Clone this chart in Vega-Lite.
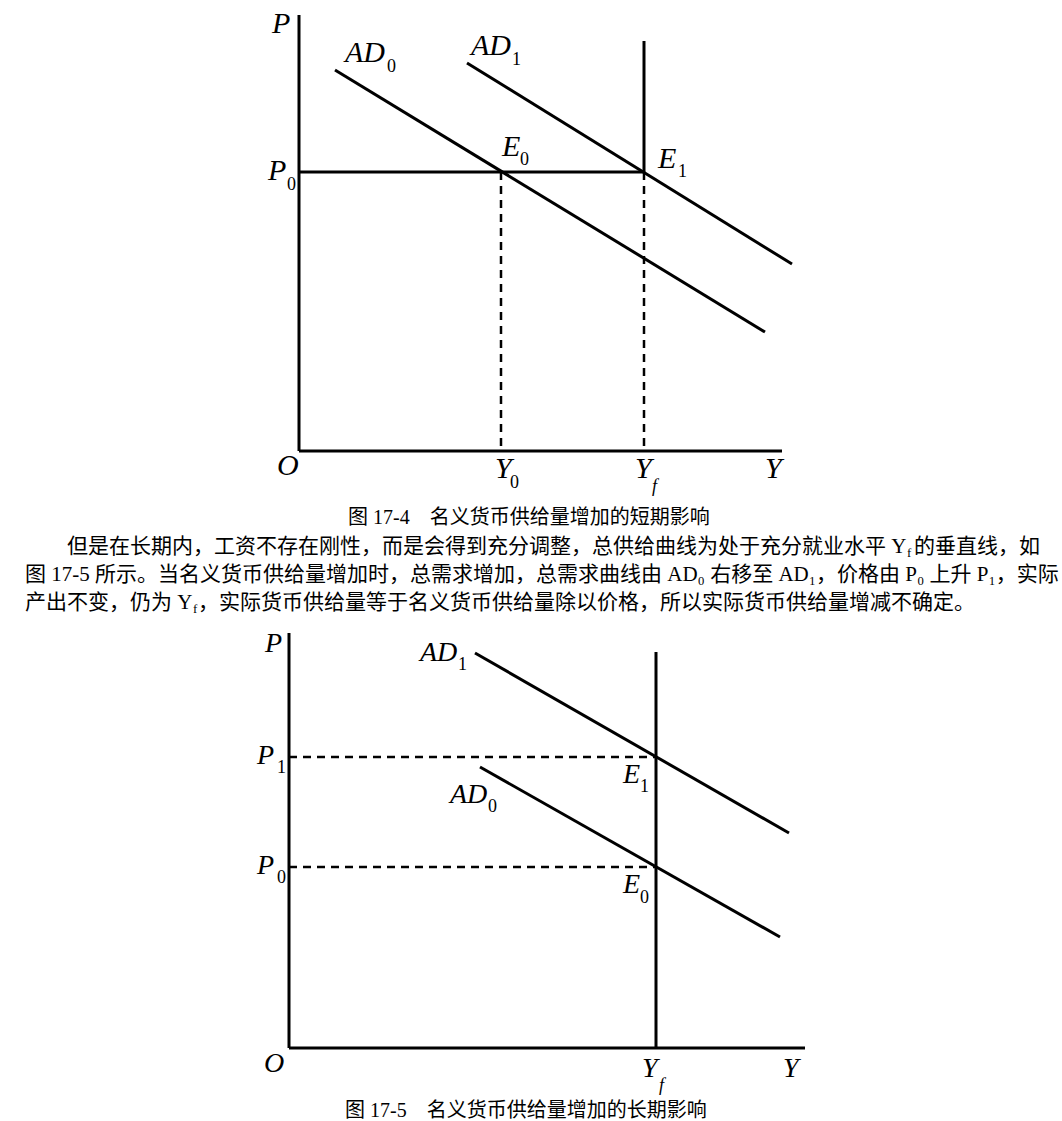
{
  "$schema": "https://vega.github.io/schema/vega-lite/v6.json",
  "width": 1062,
  "height": 1121,
  "autosize": {"type": "fit", "contains": "padding"},
  "padding": 0,
  "background": "white",
  "config": {"view": {"stroke": null}},
  "datasets": {
    "segments": [
      {"fig": "17-4", "item": "P axis", "kind": "axis", "x": 299, "y": 15, "x2": 299, "y2": 451},
      {"fig": "17-4", "item": "Y axis", "kind": "axis", "x": 299, "y": 451, "x2": 782, "y2": 451},
      {"fig": "17-4", "item": "SRAS P0", "kind": "curve", "x": 299, "y": 172, "x2": 644, "y2": 172},
      {"fig": "17-4", "item": "LRAS", "kind": "curve", "x": 644, "y": 41, "x2": 644, "y2": 172},
      {"fig": "17-4", "item": "AD0", "kind": "curve", "x": 335, "y": 70, "x2": 765, "y2": 332},
      {"fig": "17-4", "item": "AD1", "kind": "curve", "x": 467, "y": 63, "x2": 792, "y2": 264},
      {"fig": "17-4", "item": "Y0 guide", "kind": "guide", "x": 501, "y": 172, "x2": 501, "y2": 451},
      {"fig": "17-4", "item": "Yf guide", "kind": "guide", "x": 644, "y": 172, "x2": 644, "y2": 451},
      {"fig": "17-5", "item": "P axis", "kind": "axis", "x": 289, "y": 633, "x2": 289, "y2": 1048},
      {"fig": "17-5", "item": "Y axis", "kind": "axis", "x": 289, "y": 1048, "x2": 805, "y2": 1048},
      {"fig": "17-5", "item": "LRAS", "kind": "curve", "x": 656, "y": 652, "x2": 656, "y2": 1048},
      {"fig": "17-5", "item": "AD1", "kind": "curve", "x": 475, "y": 653, "x2": 789, "y2": 833},
      {"fig": "17-5", "item": "AD0", "kind": "curve", "x": 480, "y": 767, "x2": 780, "y2": 937},
      {"fig": "17-5", "item": "P1 guide", "kind": "guide", "x": 289, "y": 757, "x2": 656, "y2": 757},
      {"fig": "17-5", "item": "P0 guide", "kind": "guide", "x": 289, "y": 867, "x2": 656, "y2": 867}
    ],
    "labels": [
      {"fig": "17-4", "role": "var", "label": "P", "x": 272, "y": 33},
      {"fig": "17-4", "role": "var", "label": "AD", "x": 345, "y": 62},
      {"fig": "17-4", "role": "sub", "label": "0", "x": 387, "y": 72},
      {"fig": "17-4", "role": "var", "label": "AD", "x": 471, "y": 55},
      {"fig": "17-4", "role": "sub", "label": "1", "x": 512, "y": 65},
      {"fig": "17-4", "role": "var", "label": "E", "x": 502, "y": 156},
      {"fig": "17-4", "role": "sub", "label": "0", "x": 520, "y": 165},
      {"fig": "17-4", "role": "var", "label": "E", "x": 658, "y": 168},
      {"fig": "17-4", "role": "sub", "label": "1", "x": 678, "y": 177},
      {"fig": "17-4", "role": "var", "label": "P", "x": 268, "y": 180},
      {"fig": "17-4", "role": "sub", "label": "0", "x": 287, "y": 190},
      {"fig": "17-4", "role": "var", "label": "O", "x": 277, "y": 475},
      {"fig": "17-4", "role": "var", "label": "Y", "x": 495, "y": 478},
      {"fig": "17-4", "role": "sub", "label": "0", "x": 510, "y": 488},
      {"fig": "17-4", "role": "var", "label": "Y", "x": 635, "y": 478},
      {"fig": "17-4", "role": "subf", "label": "f", "x": 652, "y": 492},
      {"fig": "17-4", "role": "var", "label": "Y", "x": 765, "y": 478},
      {"fig": "17-5", "role": "var", "label": "P", "x": 265, "y": 652},
      {"fig": "17-5", "role": "var", "label": "AD", "x": 420, "y": 661},
      {"fig": "17-5", "role": "sub", "label": "1", "x": 458, "y": 670},
      {"fig": "17-5", "role": "var", "label": "P", "x": 257, "y": 764},
      {"fig": "17-5", "role": "sub", "label": "1", "x": 277, "y": 773},
      {"fig": "17-5", "role": "var", "label": "AD", "x": 450, "y": 803},
      {"fig": "17-5", "role": "sub", "label": "0", "x": 488, "y": 812},
      {"fig": "17-5", "role": "var", "label": "P", "x": 257, "y": 874},
      {"fig": "17-5", "role": "sub", "label": "0", "x": 277, "y": 883},
      {"fig": "17-5", "role": "var", "label": "E", "x": 623, "y": 783},
      {"fig": "17-5", "role": "sub", "label": "1", "x": 640, "y": 792},
      {"fig": "17-5", "role": "var", "label": "E", "x": 623, "y": 893},
      {"fig": "17-5", "role": "sub", "label": "0", "x": 640, "y": 903},
      {"fig": "17-5", "role": "var", "label": "O", "x": 264, "y": 1072},
      {"fig": "17-5", "role": "var", "label": "Y", "x": 642, "y": 1077},
      {"fig": "17-5", "role": "subf", "label": "f", "x": 659, "y": 1091},
      {"fig": "17-5", "role": "var", "label": "Y", "x": 783, "y": 1077}
    ],
    "text": [
      {"role": "caption", "label": "图 17-4\u3000名义货币供给量增加的短期影响", "x": 348, "y": 518},
      {"role": "body", "label": "但是在长期内，工资不存在刚性，而是会得到充分调整，总供给曲线为处于充分就业水平 Y", "x": 67, "y": 547},
      {"role": "bodysub", "label": "f", "x": 907, "y": 553},
      {"role": "bodyR", "label": "的垂直线，如", "x": 1040, "y": 547},
      {"role": "body", "label": "图 17-5 所示。当名义货币供给量增加时，总需求增加，总需求曲线由 AD₀ 右移至 AD₁，价格由 P₀ 上升 P₁，实际", "x": 25, "y": 575},
      {"role": "body", "label": "产出不变，仍为 Y", "x": 25, "y": 603},
      {"role": "bodysub", "label": "f", "x": 193, "y": 609},
      {"role": "body", "label": "，实际货币供给量等于名义货币供给量除以价格，所以实际货币供给量增减不确定。", "x": 198, "y": 603},
      {"role": "caption", "label": "图 17-5\u3000名义货币供给量增加的长期影响", "x": 345, "y": 1111}
    ]
  },
  "encoding": {
    "x": {"field": "x", "type": "quantitative", "scale": {"domain": [0, 1062], "nice": false, "zero": false}, "axis": null},
    "y": {"field": "y", "type": "quantitative", "scale": {"domain": [0, 1121], "reverse": true, "nice": false, "zero": false}, "axis": null}
  },
  "layer": [
    {
      "data": {"name": "segments"},
      "transform": [{"filter": "datum.kind != 'guide'"}],
      "mark": {"type": "rule", "color": "black", "strokeWidth": 3},
      "encoding": {"x2": {"field": "x2"}, "y2": {"field": "y2"}}
    },
    {
      "data": {"name": "segments"},
      "transform": [{"filter": "datum.kind == 'guide'"}],
      "mark": {"type": "rule", "color": "black", "strokeWidth": 2.5, "strokeDash": [8, 6]},
      "encoding": {"x2": {"field": "x2"}, "y2": {"field": "y2"}}
    },
    {
      "data": {"name": "labels"},
      "transform": [{"filter": "datum.role == 'var' && datum.fig == '17-4'"}],
      "mark": {"type": "text", "align": "left", "baseline": "alphabetic", "font": "Liberation Serif", "fontStyle": "italic", "fontSize": 30, "color": "black"},
      "encoding": {"text": {"field": "label"}}
    },
    {
      "data": {"name": "labels"},
      "transform": [{"filter": "datum.role == 'var' && datum.fig == '17-5'"}],
      "mark": {"type": "text", "align": "left", "baseline": "alphabetic", "font": "Liberation Serif", "fontStyle": "italic", "fontSize": 28, "color": "black"},
      "encoding": {"text": {"field": "label"}}
    },
    {
      "data": {"name": "labels"},
      "transform": [{"filter": "datum.role == 'sub'"}],
      "mark": {"type": "text", "align": "left", "baseline": "alphabetic", "font": "Liberation Serif", "fontSize": 18, "color": "black"},
      "encoding": {"text": {"field": "label"}}
    },
    {
      "data": {"name": "labels"},
      "transform": [{"filter": "datum.role == 'subf'"}],
      "mark": {"type": "text", "align": "left", "baseline": "alphabetic", "font": "Liberation Serif", "fontStyle": "italic", "fontSize": 18, "color": "black"},
      "encoding": {"text": {"field": "label"}}
    },
    {
      "data": {"name": "text"},
      "transform": [{"filter": "datum.role == 'body'"}],
      "mark": {"type": "text", "align": "left", "baseline": "middle", "font": "Liberation Serif, DejaVu Serif, Noto Sans CJK SC", "fontSize": 21, "color": "black"},
      "encoding": {"text": {"field": "label"}}
    },
    {
      "data": {"name": "text"},
      "transform": [{"filter": "datum.role == 'bodyR'"}],
      "mark": {"type": "text", "align": "right", "baseline": "middle", "font": "Liberation Serif, DejaVu Serif, Noto Sans CJK SC", "fontSize": 21, "color": "black"},
      "encoding": {"text": {"field": "label"}}
    },
    {
      "data": {"name": "text"},
      "transform": [{"filter": "datum.role == 'bodysub'"}],
      "mark": {"type": "text", "align": "left", "baseline": "middle", "font": "Liberation Serif", "fontSize": 13, "color": "black"},
      "encoding": {"text": {"field": "label"}}
    },
    {
      "data": {"name": "text"},
      "transform": [{"filter": "datum.role == 'caption'"}],
      "mark": {"type": "text", "align": "left", "baseline": "middle", "font": "Liberation Serif, Noto Sans CJK SC", "fontSize": 20, "color": "black"},
      "encoding": {"text": {"field": "label"}}
    }
  ]
}
